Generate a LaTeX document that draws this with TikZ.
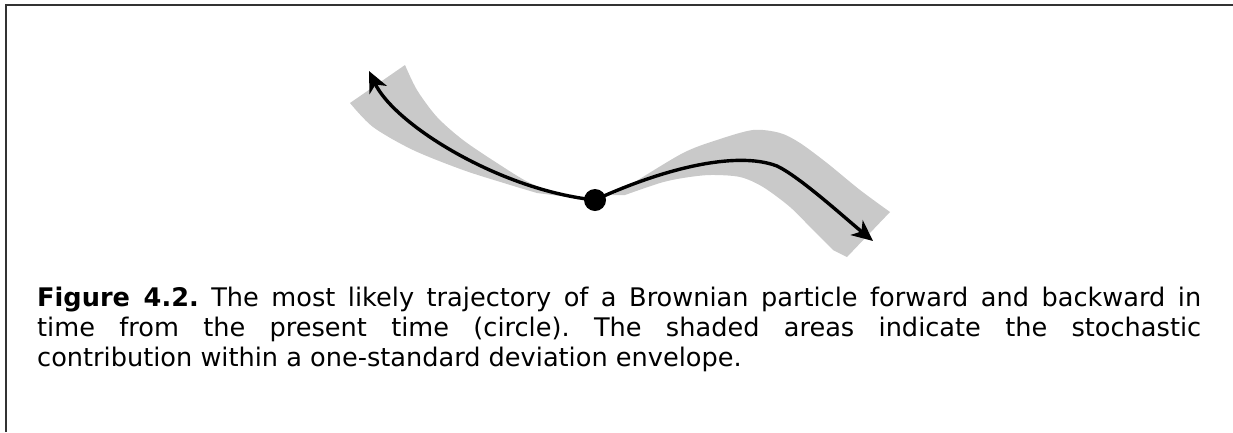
\documentclass[tikz,border=0pt]{standalone}
\usepackage{fontspec}
\setmainfont{DejaVu Sans}
\usetikzlibrary{arrows.meta}
\tikzset{
  band/.style={fill=gray!42, draw=none},
  traj/.style={line width=3.4pt, -{Stealth[length=21pt,width=19pt,inset=6pt]}},
  frameline/.style={line width=1.6pt, draw=black!80},
  caption/.style={anchor=base west, inner sep=0pt, text width=1164pt, align=justify,
    font=\fontsize{25.6}{30}\selectfont}
}
\begin{document}
\frenchspacing
\begin{tikzpicture}[x=1pt,y=-1pt]
\useasboundingbox (0,0) rectangle (1233,432);
% frame
\coordinate (fTL) at (6,5);
\coordinate (fBL) at (6,432);
\coordinate (fTR) at (1233,5);
\draw[frameline] (fBL) -- (fTL) -- (fTR);
% shaded envelopes
\fill[band] plot[smooth] coordinates {(405,65) (417,90) (437,117) (463,140) (497,163) (530,183) (568,197)}
  -- plot[smooth] coordinates {(537,193) (507,184) (463,170) (413,150) (373,127) (350,103)} -- cycle;
\fill[band] plot[smooth] coordinates {(612,195) (633,183) (683,153) (717,140) (753,130) (780,133) (800,143) (827,163) (860,190) (890,212)}
  -- (847,257) -- plot[smooth] coordinates {(833,250) (813,230) (790,207) (763,187) (740,177) (710,175) (683,178) (660,183) (625,195)} -- cycle;
% particle
\node[circle, fill=black, minimum size=22pt, inner sep=0pt] (p) at (595,200) {};
\coordinate (tipL) at (369,71);
\coordinate (bend) at (777,166);
\coordinate (tipR) at (873,241);
\draw[traj] (p.center) .. controls (500,190) and (395,125) .. (tipL);
\draw[traj] (p.center) .. controls (660,170) and (735,150) .. (bend)
  .. controls (800,177) and (845,218) .. (tipR);
% caption
\node[caption] (cap) at (37,306) {\textbf{Figure 4.2.} The most likely trajectory of a Brownian particle forward and backward in\linebreak time from the present time (circle). The shaded areas indicate the stochastic\linebreak contribution within a one-standard deviation envelope.};
\end{tikzpicture}
\end{document}
